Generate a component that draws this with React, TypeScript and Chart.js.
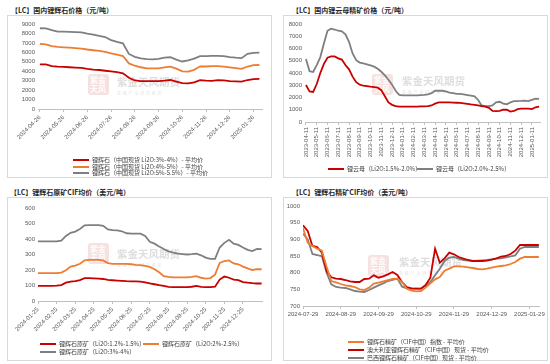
import React, { useEffect, useRef } from "react";
import { Chart, registerables } from "chart.js";
Chart.register(...registerables);

const RED = "#C80000";
const ORANGE = "#ED7D31";
const GRAY = "#7F7F7F";
const TICK_FONT = '"Liberation Sans", "Noto Sans CJK SC", sans-serif';
const CJK_FONT = '"Noto Sans CJK SC", "Liberation Sans", sans-serif';

// ---------- Panel 1: 国内锂辉石价格 (元/吨) ----------
const spodTicks = ["2024-04-26", "2024-05-26", "2024-06-26", "2024-07-26", "2024-08-26", "2024-09-26", "2024-10-26", "2024-11-26", "2024-12-26", "2025-01-26"];
const spodLabels = ["锂辉石（中国现货 Li2O:3%-4%）- 平均价", "锂辉石（中国现货 Li2O:4%-5%）- 平均价", "锂辉石（中国现货 Li2O:5%-5.5%）- 平均价"];
const spodLow = [4730, 4720, 4550, 4480, 4460, 4420, 4380, 4350, 4250, 4180, 4130, 4050, 3980, 3900, 3780, 3300, 3020, 2960, 2960, 2960, 2960, 3000, 3070, 2900, 2730, 2720, 2820, 3050, 3000, 2980, 3050, 3030, 2960, 2920, 2890, 3070, 3170, 3180];
const spodMid = [6890, 6850, 6650, 6570, 6530, 6500, 6450, 6400, 6300, 6220, 6150, 6050, 5900, 5750, 5610, 4830, 4580, 4420, 4310, 4300, 4310, 4400, 4490, 4280, 3980, 3960, 4150, 4520, 4500, 4550, 4540, 4480, 4400, 4330, 4250, 4500, 4650, 4660];
const spodHigh = [8550, 8540, 8350, 8190, 8190, 8170, 8150, 8110, 7970, 7870, 7750, 7620, 7300, 7100, 6960, 5830, 5520, 5360, 5280, 5260, 5300, 5440, 5480, 5220, 5030, 5150, 5330, 5600, 5600, 5620, 5620, 5600, 5500, 5430, 5380, 5850, 5950, 5970];

// ---------- Panel 2: 国内锂云母精矿价格 (元/吨) ----------
const lepiTicks = ["2023-04-11", "2023-05-11", "2023-06-11", "2023-07-11", "2023-08-11", "2023-09-11", "2023-10-11", "2023-11-11", "2023-12-11", "2024-01-11", "2024-02-11", "2024-03-11", "2024-04-11", "2024-05-11", "2024-06-11", "2024-07-11", "2024-08-11", "2024-09-11", "2024-10-11", "2024-11-11", "2024-12-11", "2025-01-11"];
const lepiLabels = ["锂云母（Li2O:1.5%-2.0%）", "锂云母（Li2O:2.0%-2.5%）"];
const lepiLow = [3020, 2500, 2450, 3100, 4000, 4750, 5250, 5350, 5350, 5200, 5100, 4650, 4300, 3700, 3250, 3050, 2960, 2920, 2880, 2850, 2800, 2600, 2100, 1600, 1400, 1300, 1250, 1250, 1250, 1250, 1250, 1260, 1270, 1280, 1300, 1350, 1500, 1600, 1600, 1600, 1600, 1580, 1570, 1560, 1520, 1480, 1430, 1400, 1350, 1300, 1250, 1150, 900, 880, 900, 1000, 1000, 850, 900, 1050, 1100, 1100, 1100, 1050, 1200, 1250];
const lepiHigh = [5140, 4150, 4080, 4650, 5300, 6400, 7450, 7620, 7550, 7450, 7400, 7150, 6550, 5600, 5050, 4850, 4780, 4700, 4620, 4520, 4350, 4100, 3800, 3450, 3050, 2550, 2220, 2180, 2180, 2170, 2170, 2180, 2200, 2220, 2250, 2350, 2550, 2560, 2550, 2500, 2400, 2350, 2300, 2300, 2250, 2200, 2150, 2100, 1800, 1350, 1300, 1300, 1350, 1600, 1650, 1500, 1450, 1600, 1700, 1700, 1720, 1750, 1700, 1800, 1900, 1880];

// ---------- Panel 3: 锂辉石原矿CIF均价 (美元/吨) ----------
const oreTicks = ["2024-01-25", "2024-02-25", "2024-03-25", "2024-04-25", "2024-05-25", "2024-06-25", "2024-07-25", "2024-08-25", "2024-09-25", "2024-10-25", "2024-11-25", "2024-12-25"];
const oreLabels = ["锂辉石原矿（Li2O:1.2%-1.5%）", "锂辉石原矿（Li2O:2%-2.5%）", "锂辉石原矿（Li2O:3%-4%）"];
const oreLow = [98, 98, 98, 98, 99, 103, 118, 125, 128, 135, 147, 147, 146, 145, 142, 136, 134, 132, 130, 128, 127, 126, 125, 120, 113, 108, 102, 97, 91, 90, 90, 90, 90, 92, 97, 91, 90, 90, 92, 138, 158, 150, 138, 135, 122, 118, 115, 113, 113];
const oreMid = [180, 180, 180, 180, 180, 183, 198, 222, 228, 240, 262, 265, 265, 265, 262, 245, 240, 240, 240, 240, 237, 233, 232, 226, 220, 205, 185, 160, 155, 153, 152, 152, 152, 155, 160, 150, 145, 148, 170, 245, 258, 262, 242, 237, 222, 210, 200, 205, 205];
const oreHigh = [385, 385, 385, 385, 385, 390, 420, 440, 448, 465, 488, 490, 490, 490, 485, 462, 457, 455, 450, 437, 435, 435, 435, 420, 382, 370, 352, 335, 320, 312, 305, 303, 300, 302, 305, 295, 280, 272, 272, 345, 375, 395, 370, 362, 345, 330, 322, 336, 335];

// ---------- Panel 4: 锂辉石精矿CIF均价 (美元/吨) ----------
const concTicks = ["2024-07-29", "2024-08-29", "2024-09-29", "2024-10-29", "2024-11-29", "2024-12-29", "2025-01-29"];
const concLabels = ["锂辉石精矿（CIF中国）指数 - 平均价", "澳大利亚锂辉石精矿（CIF中国）现货 - 平均价", "巴西锂辉石精矿（CIF中国）现货 - 平均价"];
const concIndex = [934, 890, 880, 872, 866, 818, 775, 771, 766, 762, 760, 757, 750, 748, 755, 767, 770, 774, 778, 781, 782, 772, 752, 746, 744, 745, 755, 768, 780, 787, 806, 812, 819, 819, 818, 816, 814, 811, 810, 812, 815, 818, 820, 822, 826, 832, 842, 847, 847, 847, 847];
const concAus = [942, 925, 880, 877, 860, 805, 786, 782, 781, 778, 774, 772, 772, 781, 782, 792, 785, 789, 795, 802, 793, 772, 757, 753, 752, 752, 763, 785, 872, 830, 843, 860, 855, 847, 842, 838, 835, 835, 835, 836, 839, 843, 848, 850, 856, 866, 883, 883, 883, 883, 883];
const concBra = [917, 900, 856, 853, 849, 800, 765, 757, 755, 754, 750, 745, 743, 742, 748, 755, 762, 768, 775, 778, 782, 758, 753, 752, 752, 752, 761, 772, 792, 812, 835, 845, 847, 842, 838, 836, 835, 836, 837, 838, 840, 842, 843, 846, 849, 852, 872, 877, 877, 877, 877];

type Series = { label: string; color: string; values: number[] };
type Cfg = {
  left: number; top: number; w: number; h: number;
  plot: { l: number; t: number; r: number; b: number };
  ticks: string[]; ppm: number; xMin: number; xMax: number;
  yMin: number; yMax: number; yStep: number; rotation: number;
  series: Series[];
  wm: { lx: number; ly: number; tx: number; ty: number };
};

const watermarkPlugin = (wm: Cfg["wm"]) => ({
  id: "wm",
  beforeDatasetsDraw(chart: any) {
    const ctx = chart.ctx;
    ctx.save();
    ctx.fillStyle = "rgba(205,90,90,0.18)";
    ctx.beginPath();
    (ctx as any).roundRect ? ctx.roundRect(wm.lx, wm.ly, 21, 21, 3) : ctx.rect(wm.lx, wm.ly, 21, 21);
    ctx.fill();
    ctx.fillStyle = "rgba(255,255,255,0.9)";
    ctx.font = `bold 8px ${CJK_FONT}`;
    ctx.textBaseline = "middle";
    ctx.fillText("紫金", wm.lx + 2, wm.ly + 6);
    ctx.fillText("天风", wm.lx + 2, wm.ly + 15);
    ctx.fillStyle = "rgba(160,160,160,0.35)";
    ctx.font = `bold 10.5px ${CJK_FONT}`;
    ctx.fillText("紫金天风期货", wm.tx, wm.ty);
    ctx.font = `4px ${CJK_FONT}`;
    ctx.fillStyle = "rgba(160,160,160,0.3)";
    ctx.fillText("金  融  产  业  研  究  服  务", wm.tx, wm.ty + 11);
    ctx.restore();
  },
});

function Panel({ cfg }: { cfg: Cfg }) {
  const ref = useRef<HTMLCanvasElement>(null);
  useEffect(() => {
    const c = cfg;
    const chart = new Chart(ref.current!, {
      type: "line",
      data: {
        datasets: c.series.map((s) => ({
          label: s.label,
          data: s.values.map((v, i) => ({ x: i / c.ppm, y: v })),
          borderColor: s.color,
          backgroundColor: s.color,
          borderWidth: 1.8,
          pointRadius: 0,
          tension: 0,
          fill: false,
        })),
      },
      options: {
        animation: false,
        responsive: false,
        maintainAspectRatio: false,
        layout: { padding: { left: 0, top: c.plot.t, right: c.w - c.plot.r, bottom: 0 } },
        plugins: { legend: { display: false }, tooltip: { enabled: false } },
        scales: {
          x: {
            type: "linear",
            min: c.xMin,
            max: c.xMax,
            afterBuildTicks: (sc: any) => {
              sc.ticks = c.ticks.map((_, i) => ({ value: i }));
            },
            afterFit: (sc: any) => {
              sc.height = c.h - c.plot.b;
            },
            ticks: {
              autoSkip: false,
              minRotation: c.rotation,
              maxRotation: c.rotation,
              padding: 2,
              color: "#595959",
              font: { size: 6, family: TICK_FONT },
              callback: (v: any) => c.ticks[Math.round(Number(v))] ?? "",
            },
            grid: { display: true, drawOnChartArea: false, drawTicks: true, tickLength: 3, color: "#BFBFBF" },
            border: { display: true, color: "#BFBFBF" },
          },
          y: {
            min: c.yMin,
            max: c.yMax,
            afterFit: (sc: any) => {
              sc.width = c.plot.l;
            },
            ticks: {
              stepSize: c.yStep,
              autoSkip: false,
              padding: 3,
              color: "#595959",
              font: { size: 6, family: TICK_FONT },
              callback: (v: any) => String(v),
            },
            grid: { display: false, drawTicks: false },
            border: { display: false },
          },
        },
      },
      plugins: [watermarkPlugin(c.wm)],
    });
    return () => chart.destroy();
  }, [cfg]);
  return (
    <canvas
      ref={ref}
      width={cfg.w}
      height={cfg.h}
      style={{ position: "absolute", left: cfg.left, top: cfg.top, width: cfg.w, height: cfg.h }}
    />
  );
}

const panels: Cfg[] = [
  {
    left: 8, top: 16, w: 263, h: 161,
    plot: { l: 30, t: 8, r: 254, b: 93 },
    ticks: spodTicks, ppm: 4, xMin: -0.08, xMax: 9.36,
    yMin: 0, yMax: 9000, yStep: 1000, rotation: 45,
    series: [
      { label: spodLabels[0], color: RED, values: spodLow },
      { label: spodLabels[1], color: ORANGE, values: spodMid },
      { label: spodLabels[2], color: GRAY, values: spodHigh },
    ],
    wm: { lx: 80, ly: 58, tx: 109, ty: 66 },
  },
  {
    left: 284, top: 16, w: 263, h: 161,
    plot: { l: 21, t: 8, r: 256, b: 106 },
    ticks: lepiTicks, ppm: 3, xMin: -0.09, xMax: 21.75,
    yMin: 0, yMax: 8000, yStep: 1000, rotation: 90,
    series: [
      { label: lepiLabels[0], color: RED, values: lepiLow },
      { label: lepiLabels[1], color: GRAY, values: lepiHigh },
    ],
    wm: { lx: 88, ly: 58, tx: 118, ty: 65 },
  },
  {
    left: 8, top: 198, w: 263, h: 162,
    plot: { l: 30, t: 10, r: 254, b: 103 },
    ticks: oreTicks, ppm: 4, xMin: 0, xMax: 12.02,
    yMin: 0, yMax: 600, yStep: 100, rotation: 45,
    series: [
      { label: oreLabels[0], color: RED, values: oreLow },
      { label: oreLabels[1], color: ORANGE, values: oreMid },
      { label: oreLabels[2], color: GRAY, values: oreHigh },
    ],
    wm: { lx: 80, ly: 45, tx: 109, ty: 56 },
  },
  {
    left: 284, top: 198, w: 263, h: 162,
    plot: { l: 19, t: 8, r: 258, b: 108 },
    ticks: concTicks, ppm: 8, xMin: 0, xMax: 6.26,
    yMin: 700, yMax: 1000, yStep: 50, rotation: 0,
    series: [
      { label: concLabels[0], color: ORANGE, values: concIndex },
      { label: concLabels[1], color: RED, values: concAus },
      { label: concLabels[2], color: GRAY, values: concBra },
    ],
    wm: { lx: 84, ly: 57, tx: 115, ty: 64 },
  },
];

const titles = [
  { text: "【LC】国内锂辉石价格（元/吨）", x: 11, y: 10 },
  { text: "【LC】国内锂云母精矿价格（元/吨）", x: 292, y: 10 },
  { text: "【LC】锂辉石原矿CIF均价（美元/吨）", x: 10, y: 192 },
  { text: "【LC】锂辉石精矿CIF均价（美元/吨）", x: 292, y: 192 },
];

const boxes = [
  { x: 7, y: 15, w: 265, h: 163 },
  { x: 283, y: 15, w: 265, h: 163 },
  { x: 7, y: 197, w: 265, h: 164 },
  { x: 283, y: 197, w: 265, h: 164 },
];

const legendItems = [
  { x: 73, y: 160, color: RED, text: spodLabels[0] },
  { x: 73, y: 166.5, color: ORANGE, text: spodLabels[1] },
  { x: 73, y: 173, color: GRAY, text: spodLabels[2] },
  { x: 328, y: 169, color: RED, text: lepiLabels[0] },
  { x: 417, y: 169, color: GRAY, text: lepiLabels[1] },
  { x: 40, y: 344, color: RED, text: oreLabels[0] },
  { x: 143, y: 344, color: ORANGE, text: oreLabels[1] },
  { x: 40, y: 352, color: GRAY, text: oreLabels[2] },
  { x: 348, y: 342, color: ORANGE, text: concLabels[0] },
  { x: 348, y: 350.3, color: RED, text: concLabels[1] },
  { x: 348, y: 358, color: GRAY, text: concLabels[2] },
];

export default function App() {
  return (
    <div style={{ position: "absolute", left: 0, top: 0, width: 550, height: 364, background: "#fff", overflow: "hidden" }}>
      {boxes.map((b, i) => (
        <div key={"b" + i} style={{ position: "absolute", left: b.x, top: b.y, width: b.w - 2, height: b.h - 2, border: "1px solid #D9D9D9" }} />
      ))}
      {titles.map((t, i) => (
        <div
          key={"t" + i}
          style={{ position: "absolute", left: t.x, top: t.y - 5, height: 10, lineHeight: "10px", fontSize: 7, fontWeight: "bold", color: "#262626", fontFamily: CJK_FONT, whiteSpace: "nowrap" }}
        >
          {t.text}
        </div>
      ))}
      {panels.map((p, i) => (
        <Panel key={"p" + i} cfg={p} />
      ))}
      {legendItems.map((l, i) => (
        <div key={"l" + i} style={{ position: "absolute", left: l.x, top: l.y - 4, height: 8, display: "flex", alignItems: "center", whiteSpace: "nowrap" }}>
          <span style={{ display: "inline-block", width: 16, height: 2, background: l.color, marginRight: 3 }} />
          <span style={{ fontSize: 6, lineHeight: "8px", color: "#404040", fontFamily: CJK_FONT }}>{l.text}</span>
        </div>
      ))}
    </div>
  );
}
